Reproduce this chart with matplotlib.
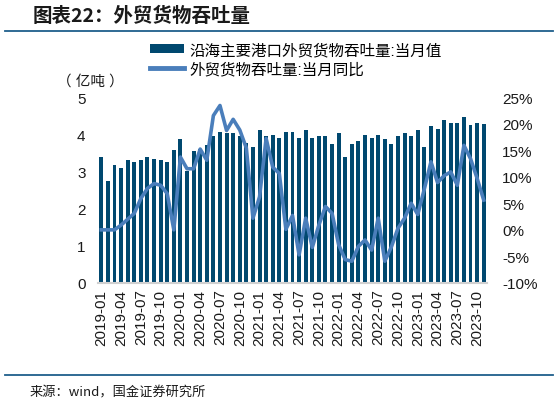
import matplotlib
matplotlib.use("Agg")

import matplotlib.pyplot as plt
from matplotlib.lines import Line2D
from matplotlib.patches import Patch

plt.rcParams['font.family'] = ['Liberation Sans', 'Noto Sans CJK SC', 'DejaVu Sans']

# months 2019-01 .. 2023-11
months = [f"{y}-{m:02d}" for y in range(2019, 2024) for m in range(1, 13)][:59]

# 沿海主要港口外贸货物吞吐量:当月值 (亿吨)
throughput = [3.39, 2.75, 3.18, 3.10, 3.30, 3.26, 3.30, 3.39, 3.34, 3.30, 3.26, 3.58,
              3.87, 3.02, 3.55, 3.60, 3.72, 3.94, 4.06, 4.03, 4.03, 3.94, 3.77, 3.66,
              4.11, 3.96, 3.97, 3.90, 4.06, 4.06, 3.91, 4.10, 3.91, 3.94, 3.94, 3.74,
              4.03, 3.39, 3.74, 3.81, 3.97, 3.91, 3.97, 3.86, 3.74, 3.94, 4.03, 3.94,
              4.10, 3.65, 4.22, 4.14, 4.38, 4.30, 4.30, 4.46, 4.26, 4.30, 4.27]

# 外贸货物吞吐量:当月同比 (%)
yoy = [0.0, 0.0, 0.0, 0.9, 2.0, 3.1, 5.9, 7.8, 8.7, 8.4, 6.8, 0.0,
       13.7, 11.5, 11.5, 15.2, 13.1, 21.5, 23.4, 18.7, 20.8, 18.8, 15.4, 2.2,
       6.2, 17.2, 11.8, 10.6, 0.1, 2.7, -4.7, 2.2, -3.3, 0.9, 4.4, 3.1,
       -2.8, -5.6, -5.9, -3.1, -1.9, -3.8, 2.2, -5.9, -3.2, 0.3, 2.2, 5.0,
       2.9, 7.7, 12.8, 8.9, 10.2, 10.9, 8.4, 15.9, 13.4, 9.7, 5.6]

bar_color = "#00486F"
line_color = "#4A7EBB"
rule_color = "#1F5F8B"

fig = plt.figure(figsize=(5.59, 4.06), dpi=100)
ax = fig.add_axes([98/559, 122/406, 389/559, 186/406])
x = list(range(len(months)))
ax.bar(x, throughput, width=0.6, color=bar_color, zorder=2)
ax.set_xlim(-0.5, len(months) - 0.5)
ax.set_ylim(0, 5)
ax.set_yticks([0, 1, 2, 3, 4, 5])
ax.set_xticks(x[::3])
ax.set_xticklabels(months[::3], rotation=90)
ax.tick_params(axis='both', length=0, labelsize=11, colors='#1a1a1a')
ax.tick_params(axis='y', pad=9)
ax.tick_params(axis='x', pad=4)
for s in ['top', 'right', 'left']:
    ax.spines[s].set_visible(False)
ax.spines['bottom'].set_color('#d0d0d0')
ax.spines['bottom'].set_linewidth(1.5)

ax2 = ax.twinx()
ax2.plot(x, yoy, color=line_color, linewidth=2.6, zorder=3)
ax2.set_ylim(-10, 25)
ax2.set_yticks(range(-10, 30, 5))
ax2.set_yticklabels([f"{v}%" for v in range(-10, 30, 5)])
ax2.tick_params(axis='y', length=0, labelsize=11, pad=11, colors='#1a1a1a')
for s in ['top', 'right', 'left', 'bottom']:
    ax2.spines[s].set_visible(False)

handles = [Patch(facecolor=bar_color, edgecolor='none'),
           Line2D([0], [0], color=line_color, linewidth=3.5)]
labels = ["沿海主要港口外贸货物吞吐量:当月值", "外贸货物吞吐量:当月同比"]
fig.legend(handles, labels, loc='upper left', bbox_to_anchor=(150/559, 1 - 43/406),
           frameon=False, fontsize=11.2, handlelength=2.2, handletextpad=0.35,
           labelspacing=0.25, borderpad=0, borderaxespad=0, handleheight=0.55)

fig.text(90/559, 1 - 82/406, "（ 亿吨 ）", fontsize=10.5, ha='center', va='center',
         color='#1a1a1a')

fig.text(33/559, 1 - 16/406, "图表22：外贸货物吞吐量", fontsize=14, fontweight='bold',
         fontstyle='italic', ha='left', va='center', color='#1a1a1a',
         family=['Noto Sans CJK SC', 'DejaVu Sans'])
fig.add_artist(Line2D([5/559, 553/559], [1 - 32/406, 1 - 32/406], color=rule_color,
                      linewidth=1.3, transform=fig.transFigure))
fig.add_artist(Line2D([5/559, 553/559], [1 - 376/406, 1 - 376/406], color=rule_color,
                      linewidth=1.3, transform=fig.transFigure))
fig.text(30/559, 1 - 393/406, "来源：wind，国金证券研究所", fontsize=9.5, ha='left',
         va='center', color='#1a1a1a', family=['Noto Sans CJK SC', 'DejaVu Sans'])

fig.savefig("out.png", dpi=100)
